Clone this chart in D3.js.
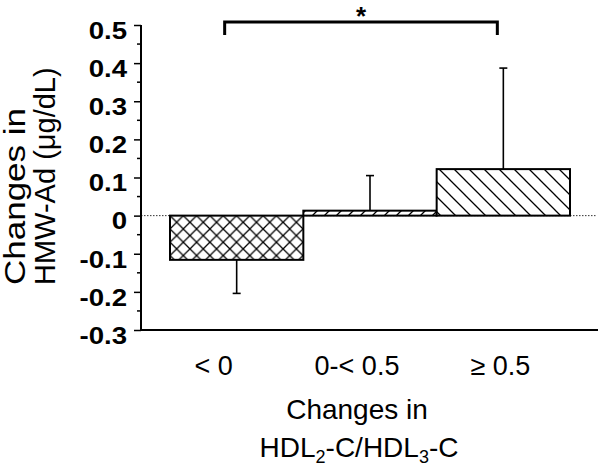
<!DOCTYPE html>
<html><head><meta charset="utf-8">
<script src="https://cdn.jsdelivr.net/npm/d3@7"></script>
<style>body{margin:0;background:#fff}</style>
</head><body>
<svg id="c" width="600" height="469"></svg>
<script>
const categories = ["< 0", "0-< 0.5", "≥ 0.5"];
const means = [-0.116, 0.013, 0.122];
const sdUpper = [-0.204, 0.105, 0.387]; // error bar ends
const yTicks = [0.5, 0.4, 0.3, 0.2, 0.1, 0, -0.1, -0.2, -0.3];
const yTickLabels = ["0.5","0.4","0.3","0.2","0.1","0","-0.1","-0.2","-0.3"];
const patterns = ["cross", "fwd", "back"];

const svg = d3.select("#c");
const font = "'Liberation Sans', Arial, sans-serif";
const y = d3.scaleLinear().domain([-0.3, 0.5]).range([330, 25]);
const x = d3.scaleBand().domain(categories).range([170, 570]).padding(0);

// patterns
const defs = svg.append("defs");
const p1 = defs.append("pattern").attr("id","cross").attr("patternUnits","userSpaceOnUse")
  .attr("width",13.3).attr("height",13.3).attr("x",170).attr("y",y(0));
p1.append("path").attr("d","M0,0L13.3,13.3M13.3,0L0,13.3").attr("stroke","#000").attr("stroke-width",1.3);
const p2 = defs.append("pattern").attr("id","fwd").attr("patternUnits","userSpaceOnUse")
  .attr("width",12).attr("height",12);
p2.append("path").attr("d","M-3,3L3,-3M0,12L12,0M9,15L15,9").attr("stroke","#000").attr("stroke-width",1.3);
const p3 = defs.append("pattern").attr("id","back").attr("patternUnits","userSpaceOnUse")
  .attr("width",15).attr("height",15);
p3.append("path").attr("d","M-3.75,11.25L3.75,18.75M0,0L15,15M11.25,-3.75L18.75,3.75").attr("stroke","#000").attr("stroke-width",1.3);

// zero dotted line
svg.append("line").attr("x1",141).attr("x2",597).attr("y1",y(0)).attr("y2",y(0))
  .attr("stroke","#333").attr("stroke-width",1).attr("stroke-dasharray","1.5,1.5");

// bars
categories.forEach((c,i)=>{
  const v = means[i];
  const y0 = Math.min(y(0), y(v)), h = Math.abs(y(v)-y(0));
  svg.append("rect").attr("x",x(c)).attr("y",y0).attr("width",x.bandwidth()).attr("height",h)
    .attr("fill","#fff");
  svg.append("rect").attr("x",x(c)).attr("y",y0).attr("width",x.bandwidth()).attr("height",h)
    .attr("fill","url(#"+patterns[i]+")").attr("stroke","#000").attr("stroke-width",2);
  const cx = x(c) + x.bandwidth()/2;
  svg.append("line").attr("x1",cx).attr("x2",cx).attr("y1",y(v)).attr("y2",y(sdUpper[i]))
    .attr("stroke","#000").attr("stroke-width",1.6);
  svg.append("line").attr("x1",cx-4).attr("x2",cx+4).attr("y1",y(sdUpper[i])).attr("y2",y(sdUpper[i]))
    .attr("stroke","#000").attr("stroke-width",1.6);
});

// y axis
const sx = 1.2;
const yAxis = d3.axisLeft(y).tickValues(yTicks).tickFormat((d,i)=>yTickLabels[i]).tickSize(7).tickPadding(10);
const ga = svg.append("g").attr("transform","translate(141,0)").call(yAxis);
ga.select(".domain").attr("d","M0,"+y(0.5)+"V"+y(-0.3)).attr("stroke-width",2);
ga.selectAll(".tick line").attr("stroke-width",1.5);
ga.selectAll(".tick text").attr("font-family",font).attr("font-weight","bold")
  .attr("font-size",23).attr("fill","#000").attr("dy","0.58em")
  .attr("x",-14/sx).attr("transform","scale("+sx+",1)");
// minor ticks
const minor = d3.range(-0.25, 0.5, 0.1);
svg.append("g").selectAll("line").data(minor).join("line")
  .attr("x1",137).attr("x2",141).attr("y1",d=>y(d)).attr("y2",d=>y(d))
  .attr("stroke","#000").attr("stroke-width",1.5);

// x axis
svg.append("line").attr("x1",140).attr("x2",598).attr("y1",330).attr("y2",330)
  .attr("stroke","#000").attr("stroke-width",2);
svg.append("g").selectAll("text").data(categories).join("text")
  .attr("x",(d,i)=>x(d)+x.bandwidth()/2 - [23,13,3][i]).attr("y",375)
  .attr("text-anchor","middle").attr("font-family",font).attr("font-size",27).text(d=>d);

// x title
svg.append("text").attr("x",357).attr("y",419).attr("text-anchor","middle")
  .attr("font-family",font).attr("font-size",28).text("Changes in");
const xt2 = svg.append("text").attr("x",359).attr("y",457).attr("text-anchor","middle")
  .attr("font-family",font).attr("font-size",28);
xt2.append("tspan").text("HDL");
xt2.append("tspan").attr("font-size",18).attr("dy",6).text("2");
xt2.append("tspan").attr("dy",-6).text("-C/HDL");
xt2.append("tspan").attr("font-size",18).attr("dy",6).text("3");
xt2.append("tspan").attr("dy",-6).text("-C");

// y title
const yt = svg.append("text").attr("transform","translate(25,285) rotate(-90)")
  .attr("font-family",font).attr("font-size",29).attr("text-anchor","start");
yt.append("tspan").attr("x",0).attr("y",0).attr("textLength",177)
  .attr("lengthAdjust","spacingAndGlyphs").text("Changes in");
yt.append("tspan").attr("x",0).attr("y",30).text("HMW-Ad (μg/dL)");

// significance bracket
const bx1 = x(categories[0]) + x.bandwidth()/2 - 12;
const bx2 = x(categories[2]) + x.bandwidth()/2 - 6;
svg.append("path").attr("d",`M${bx1},35V22H${bx2}V35`).attr("fill","none")
  .attr("stroke","#000").attr("stroke-width",3);
svg.append("text").attr("x",(bx1+bx2)/2).attr("y",25).attr("text-anchor","middle")
  .attr("font-family",font).attr("font-weight","bold").attr("font-size",26).text("*");
</script>
</body></html>
